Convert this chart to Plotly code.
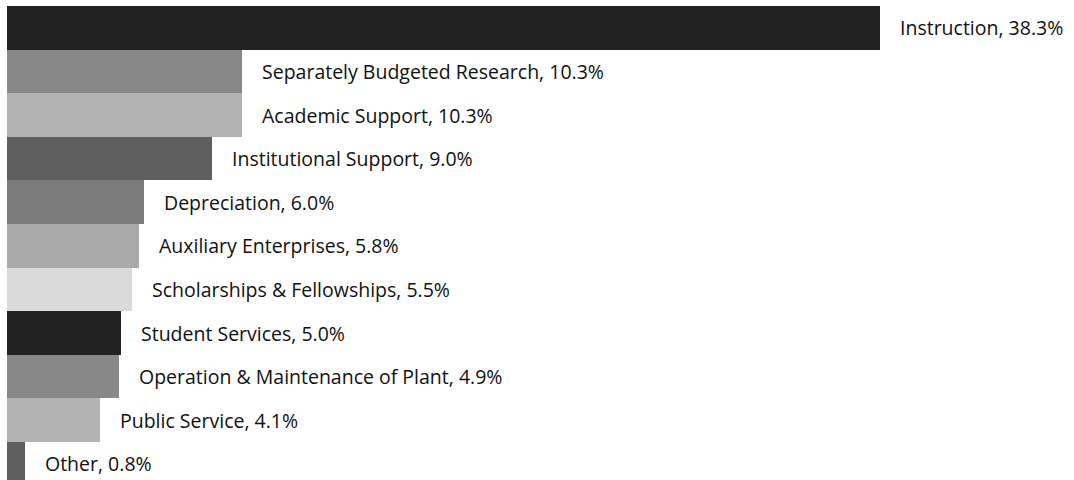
import plotly.graph_objects as go

categories = ["Instruction", "Separately Budgeted Research", "Academic Support",
              "Institutional Support", "Depreciation", "Auxiliary Enterprises",
              "Scholarships & Fellowships", "Student Services",
              "Operation & Maintenance of Plant", "Public Service", "Other"]
values = [38.3, 10.3, 10.3, 9.0, 6.0, 5.8, 5.5, 5.0, 4.9, 4.1, 0.8]
colors = ["#222222", "#888888", "#b3b3b3", "#5f5f5f", "#7b7b7b", "#aaaaaa",
          "#dadada", "#222222", "#888888", "#b3b3b3", "#5f5f5f"]

labels = [f"{c}, {v:.1f}%" for c, v in zip(categories, values)]
idx = list(range(len(categories)))

fig = go.Figure()
fig.add_trace(go.Bar(
    x=values, y=idx, orientation="h",
    marker=dict(color=colors, line=dict(width=0)),
    hoverinfo="skip",
))

for i, v, t in zip(idx, values, labels):
    fig.add_annotation(x=v, y=i, text=t, showarrow=False, xanchor="left",
                       yanchor="middle", xshift=18,
                       font=dict(family="Open Sans", size=19.5, color="#111111"))

fig.update_layout(
    width=1074, height=480,
    margin=dict(l=7, r=0, t=6, b=0),
    paper_bgcolor="white", plot_bgcolor="white",
    bargap=0, showlegend=False,
    xaxis=dict(range=[0, 1067 / 22.79], visible=False),
    yaxis=dict(range=[-0.5 + 474 / 43.6, -0.5], visible=False),
)

fig.write_html("out.html")
